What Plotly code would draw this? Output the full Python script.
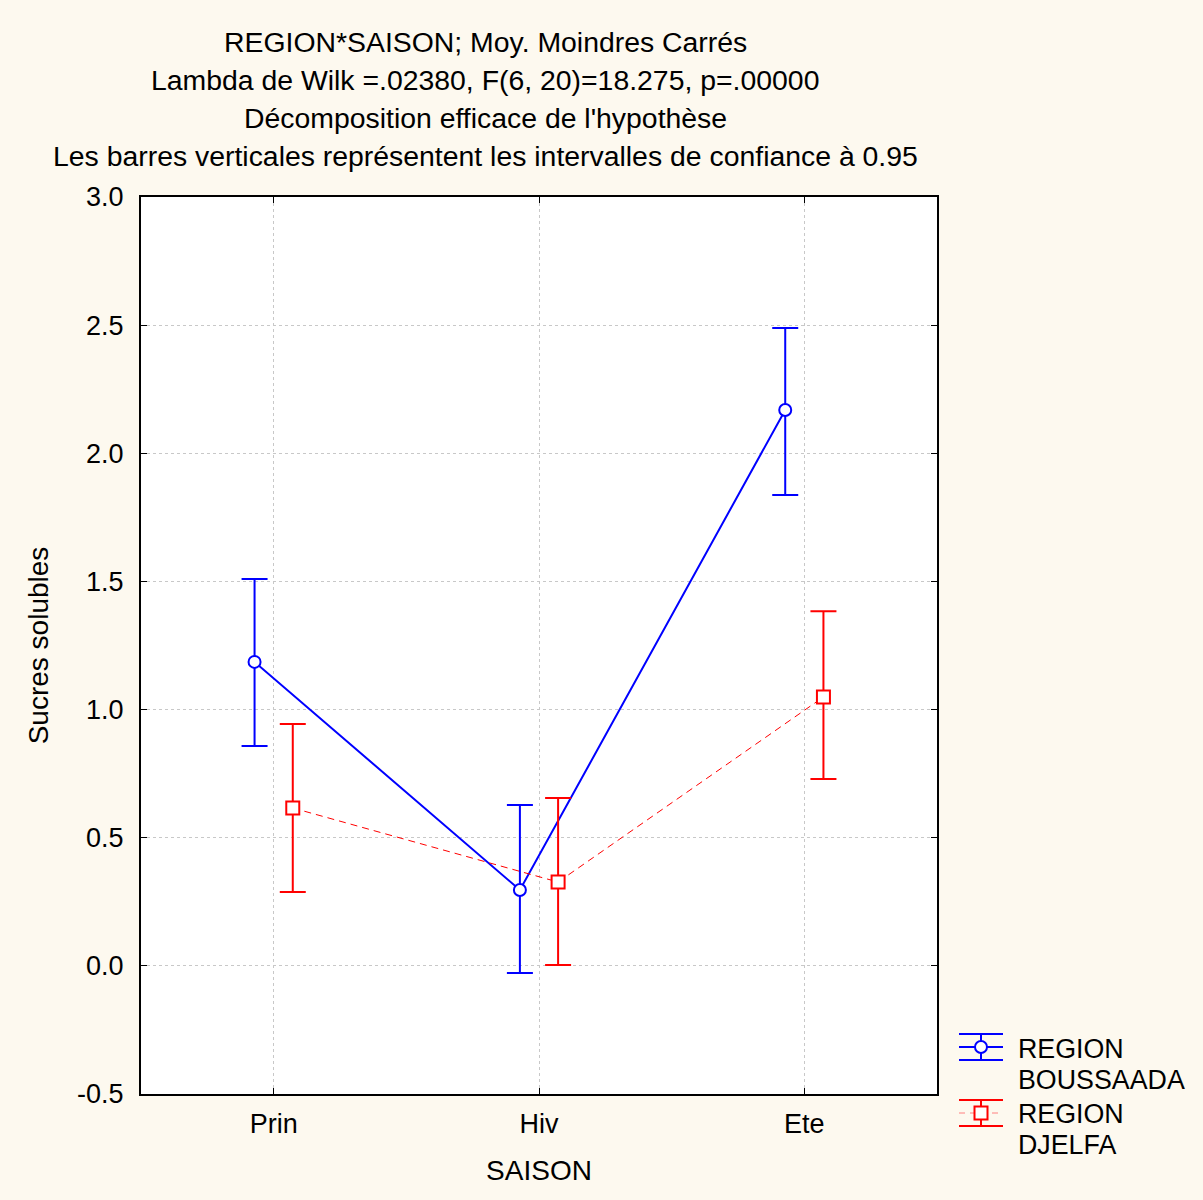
import plotly.graph_objects as go

categories = ["Prin", "Hiv", "Ete"]
boussaada_mean = [1.186, 0.296, 2.169]
boussaada_upper = [1.509, 0.628, 2.489]
boussaada_lower = [0.858, -0.028, 1.837]
djelfa_mean = [0.616, 0.327, 1.049]
djelfa_upper = [0.944, 0.655, 1.384]
djelfa_lower = [0.288, 0.003, 0.729]
y_ticks = [-0.5, 0.0, 0.5, 1.0, 1.5, 2.0, 2.5, 3.0]

FONT = "Liberation Sans, Arial, sans-serif"
BG = "#fdf9ef"
W, H = 1203, 1200
L, R, T, B = 141, 937, 197, 1094

def px(x):
    return (x - L) / (R - L)

def py(y):
    return (B - y) / (B - T)

idx = list(range(len(categories)))
off = 0.072

fig = go.Figure()
fig.add_trace(go.Scatter(
    x=[i - off for i in idx], y=boussaada_mean, mode="lines+markers",
    line=dict(color="#0000ff", width=2),
    marker=dict(symbol="circle", size=12, color="white", line=dict(color="#0000ff", width=2)),
    error_y=dict(type="data", symmetric=False,
                 array=[u - m for u, m in zip(boussaada_upper, boussaada_mean)],
                 arrayminus=[m - l for m, l in zip(boussaada_mean, boussaada_lower)],
                 color="#0000ff", thickness=2, width=13),
    showlegend=False))
fig.add_trace(go.Scatter(
    x=[i + off for i in idx], y=djelfa_mean, mode="lines+markers",
    line=dict(color="#ff0000", width=1, dash="7px,5px"),
    marker=dict(symbol="square", size=13, color="white", line=dict(color="#ff0000", width=2)),
    error_y=dict(type="data", symmetric=False,
                 array=[u - m for u, m in zip(djelfa_upper, djelfa_mean)],
                 arrayminus=[m - l for m, l in zip(djelfa_mean, djelfa_lower)],
                 color="#ff0000", thickness=2, width=13),
    showlegend=False))

titles = ["REGION*SAISON; Moy. Moindres Carrés",
          "Lambda de Wilk =.02380, F(6, 20)=18.275, p=.00000",
          "Décomposition efficace de l'hypothèse",
          "Les barres verticales représentent les intervalles de confiance à 0.95"]
ann = []
for k, t in enumerate(titles):
    ann.append(dict(text=t, x=px(485), y=py(42 + 38 * k), xref="paper", yref="paper",
                    xanchor="center", yanchor="middle", showarrow=False,
                    font=dict(family=FONT, size=28.4, color="black")))

shapes = []
# legend: Boussaada
bx0, bx1, bc = 959, 1003, 981
for yy in (1034, 1047, 1060):
    shapes.append(dict(type="line", xref="paper", yref="paper", x0=px(bx0), x1=px(bx1),
                       y0=py(yy), y1=py(yy), line=dict(color="#0000ff", width=2)))
shapes.append(dict(type="line", xref="paper", yref="paper", x0=px(bc), x1=px(bc),
                   y0=py(1034), y1=py(1060), line=dict(color="#0000ff", width=2)))
shapes.append(dict(type="circle", xref="paper", yref="paper", x0=px(bc - 6), x1=px(bc + 6),
                   y0=py(1047 - 6), y1=py(1047 + 6), fillcolor="white",
                   line=dict(color="#0000ff", width=2)))
# legend: Djelfa
for yy in (1100, 1126):
    shapes.append(dict(type="line", xref="paper", yref="paper", x0=px(bx0), x1=px(bx1),
                       y0=py(yy), y1=py(yy), line=dict(color="#ff0000", width=2)))
shapes.append(dict(type="line", xref="paper", yref="paper", x0=px(bx0), x1=px(bx1),
                   y0=py(1113), y1=py(1113), line=dict(color="#ff8080", width=1, dash="6px,5px")))
shapes.append(dict(type="line", xref="paper", yref="paper", x0=px(bc), x1=px(bc),
                   y0=py(1100), y1=py(1126), line=dict(color="#ff0000", width=2)))
shapes.append(dict(type="rect", xref="paper", yref="paper", x0=px(bc - 6.5), x1=px(bc + 6.5),
                   y0=py(1113 - 6.5), y1=py(1113 + 6.5), fillcolor="white",
                   line=dict(color="#ff0000", width=2)))

for text, yy in [("REGION", 1049), ("BOUSSAADA", 1080), ("REGION", 1114), ("DJELFA", 1145)]:
    ann.append(dict(text=text, x=px(1016), y=py(yy), xref="paper", yref="paper",
                    xanchor="left", yanchor="middle", showarrow=False,
                    font=dict(family=FONT, size=26.8, color="black")))

fig.update_layout(
    width=W, height=H, margin=dict(l=L, r=W - R, t=T, b=H - B),
    paper_bgcolor=BG, plot_bgcolor="white",
    font=dict(family=FONT, size=27, color="black"),
    annotations=ann, shapes=shapes, showlegend=False,
)
fig.update_xaxes(
    range=[-0.5, 2.5], tickvals=idx, ticktext=categories,
    showgrid=True, gridcolor="#c8c8c8", griddash="dot", gridwidth=1,
    showline=True, linecolor="black", linewidth=2, mirror="ticks",
    ticks="inside", ticklen=6, tickcolor="black", tickwidth=1,
    zeroline=False, ticklabelstandoff=5, tickfont=dict(size=27),
    title=dict(text="SAISON", font=dict(family=FONT, size=28), standoff=22),
)
fig.update_yaxes(
    range=[-0.5, 3.0], tickvals=y_ticks, ticktext=[f"{v:.1f}" for v in y_ticks],
    showgrid=True, gridcolor="#c8c8c8", griddash="dot", gridwidth=1,
    showline=True, linecolor="black", linewidth=2, mirror="ticks",
    ticks="inside", ticklen=6, tickcolor="black", tickwidth=1,
    zeroline=False, ticklabelstandoff=10, tickfont=dict(size=27),
    title=dict(text="Sucres solubles", font=dict(family=FONT, size=28), standoff=20),
)
fig.write_html("out.html")
